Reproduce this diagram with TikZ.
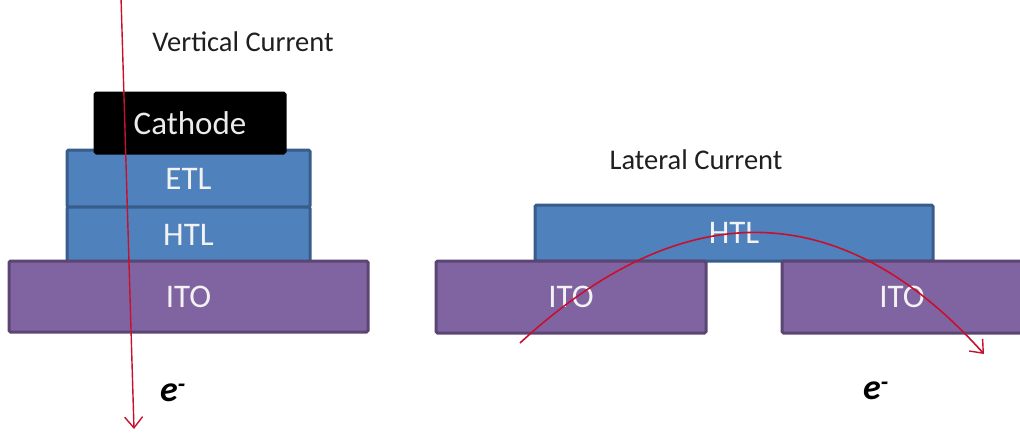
\documentclass[tikz,border=0pt]{standalone}
\usepackage{fontspec}
\setmainfont{Carlito}
\usetikzlibrary{arrows.meta}
\definecolor{layerblue}{HTML}{4F81BD}
\definecolor{layerblueedge}{HTML}{385D8A}
\definecolor{layerpurple}{HTML}{8064A2}
\definecolor{layerpurpleedge}{HTML}{5A4573}
\definecolor{currentred}{HTML}{C8102E}
\tikzset{
  layer/.style={rectangle, line width=3pt, rounded corners=1.5pt, inner sep=0pt,
    text=white!95!black, font=\fontsize{33}{36}\selectfont},
  bluelayer/.style={layer, fill=layerblue, draw=layerblueedge},
  purplelayer/.style={layer, fill=layerpurple, draw=layerpurpleedge},
  cathodelayer/.style={layer, fill=black, draw=black},
  title/.style={font=\fontsize{28.5}{32}\selectfont, text=black!88, inner sep=0pt},
  elabel/.style={font=\fontsize{36}{38}\selectfont\bfseries\itshape, text=black, inner sep=0pt},
  current/.style={draw=currentred, line width=1.4pt, -{Straight Barb[length=11pt,width=18pt,line width=1.4pt]}},
}
\begin{document}
\begin{tikzpicture}[x=1pt,y=-1pt]
\useasboundingbox (0,0) rectangle (1020,432);
% left stack
\node[bluelayer, minimum width=243pt, minimum height=57pt] (etl) at (188.5,178.5) {ETL};
\node[bluelayer, minimum width=243pt, minimum height=55pt] (htl) at (188.5,234.5) {HTL};
\node[purplelayer, minimum width=359pt, minimum height=71pt] (ito) at (188.5,296.5) {ITO};
\node[cathodelayer, minimum width=190pt, minimum height=60pt] (cathode) at (190,123) {};
\node[title] (vtitle) at (243,42) {Vertical Current};
\node[elabel] (eleft) at (173,393) {e\textsuperscript{-}};
\coordinate (vtop) at (121,-3);
\coordinate (vbot) at (134,429);
\draw[current] (vtop) -- (vbot);
\node[layer, text=white!92!black] (cathodetext) at (cathode.center) {Cathode};
% right structure
\node[bluelayer, minimum width=398pt, minimum height=56pt] (htlr) at (734,233) {HTL};
\node[purplelayer, minimum width=270pt, minimum height=72pt] (itol) at (571,297) {ITO};
\node[purplelayer, minimum width=240pt, minimum height=72pt] (itor) at (902,297) {ITO};
\node[title] (ltitle) at (696,160) {Lateral Current};
\node[elabel] (eright) at (876,391) {e\textsuperscript{-}};
\coordinate (astart) at (520,343);
\coordinate (aend) at (984,354);
\draw[current, line width=1.6pt] (astart) .. controls (684,192) and (842,196) .. (aend);
\end{tikzpicture}
\end{document}
